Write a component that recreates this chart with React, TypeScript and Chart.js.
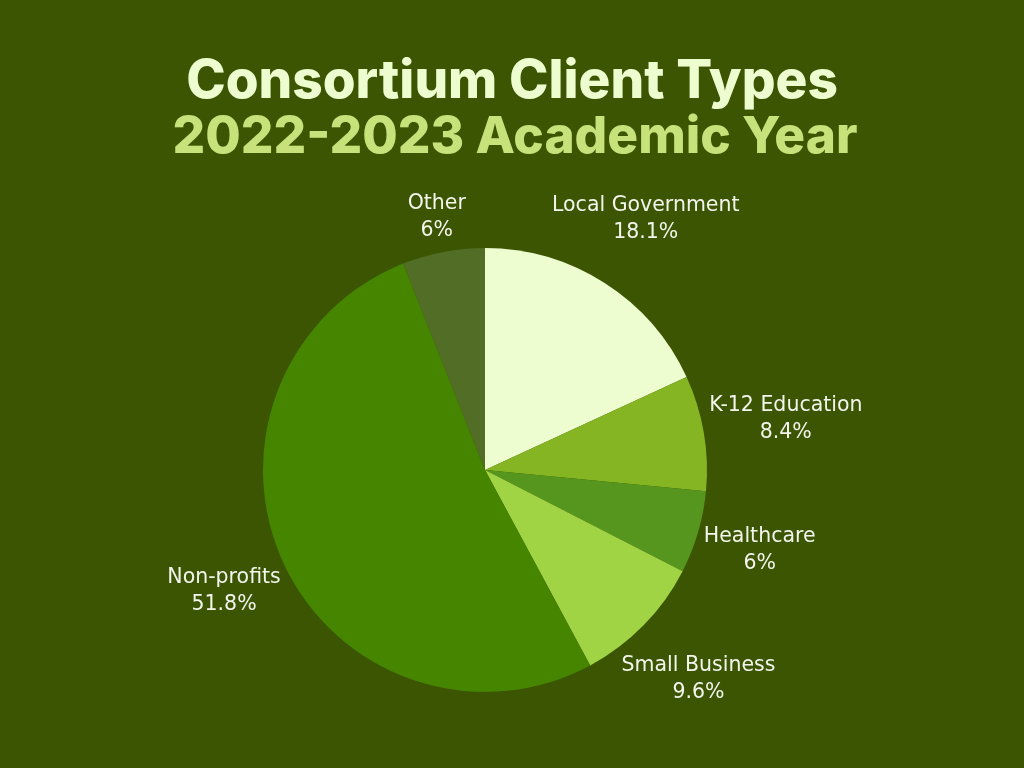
import { useEffect, useRef } from 'react';
import { Chart, registerables } from 'chart.js';

Chart.register(...registerables);

const categories = ['Local Government', 'K-12 Education', 'Healthcare', 'Small Business', 'Non-profits', 'Other'];
const shares = [18.1, 8.4, 6, 9.6, 51.8, 6];
const sliceColors = ['#EEFDD0', '#86B524', '#57961E', '#A0D445', '#468500', '#526D26'];
const titleLines = ['Consortium Client Types', '2022-2023 Academic Year'];
const titleColors = ['#EEFDD0', '#C7E27A'];

const BG = '#3B5502';
const LABEL_FONT = '400 20.5px "DejaVu Sans"';

// two-colour heading above the pie, drawn across the full width
const heading = {
  id: 'heading',
  afterDraw(chart: any) {
    const ctx = chart.ctx;
    const targets = [652, 685];
    const baselines = [98, 153];
    ctx.save();
    ctx.textAlign = 'center';
    ctx.textBaseline = 'alphabetic';
    titleLines.forEach((line, i) => {
      ctx.font = '800 56px Inter';
      const natural = ctx.measureText(line).width;
      const size = Math.min(57, (56 * targets[i]) / natural);
      ctx.font = `800 ${size}px Inter`;
      ctx.fillStyle = titleColors[i];
      ctx.fillText(line, chart.width / 2 + (i === 1 ? 3 : 0), baselines[i]);
    });
    ctx.restore();
  }
};

// puts the name and share outside every slice, just past the rim
const outsideLabels = {
  id: 'outsideLabels',
  afterDatasetsDraw(chart: any) {
    const ctx = chart.ctx;
    const meta = chart.getDatasetMeta(0);
    ctx.save();
    ctx.font = LABEL_FONT;
    ctx.fillStyle = '#F3F5EC';
    ctx.textAlign = 'center';
    ctx.textBaseline = 'middle';
    const lineGap = 27;
    meta.data.forEach((arc: any, i: number) => {
      const { x, y, startAngle, endAngle, outerRadius } = arc.getProps(
        ['x', 'y', 'startAngle', 'endAngle', 'outerRadius'], true);
      const mid = (startAngle + endAngle) / 2;
      const dx = Math.cos(mid);
      const dy = Math.sin(mid);
      const pct = `${shares[i]}%`;
      const w = Math.max(ctx.measureText(categories[i]).width, ctx.measureText(pct).width);
      const h = lineGap * 2;
      const reach = (w / 2) * Math.abs(dx) + (h / 2) * Math.abs(dy);
      const d = outerRadius + 3 + reach;
      const cx = x + dx * d;
      const cy = y + dy * d;
      ctx.fillText(categories[i], cx, cy - lineGap / 2);
      ctx.fillText(pct, cx, cy + lineGap / 2);
    });
    ctx.restore();
  }
};

const background = {
  id: 'background',
  beforeDraw(chart: any) {
    const ctx = chart.ctx;
    ctx.save();
    ctx.fillStyle = BG;
    ctx.fillRect(0, 0, chart.width, chart.height);
    ctx.restore();
  }
};

export default function App() {
  const canvasRef = useRef<HTMLCanvasElement>(null);

  useEffect(() => {
    document.body.style.margin = '0';
    document.body.style.background = BG;
    if (!canvasRef.current) return;
    const chart = new Chart(canvasRef.current, {
      type: 'pie',
      data: {
        labels: categories,
        datasets: [{
          data: shares,
          backgroundColor: sliceColors,
          borderWidth: 0
        }]
      },
      options: {
        animation: false,
        responsive: false,
        layout: { padding: { top: 248, left: 263, right: 317, bottom: 76 } },
        plugins: {
          legend: { display: false },
          tooltip: { enabled: false },
          title: { display: false }
        }
      },
      plugins: [background, outsideLabels, heading]
    });
    return () => chart.destroy();
  }, []);

  return <canvas ref={canvasRef} width={1024} height={768} style={{ display: 'block', width: 1024, height: 768 }} />;
}
